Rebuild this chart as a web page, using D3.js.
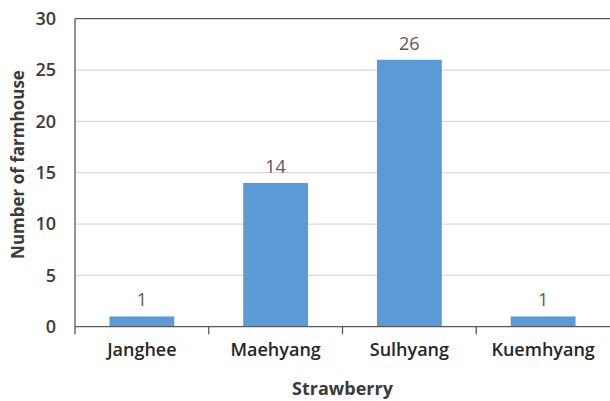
<!DOCTYPE html>
<html>
<head>
<meta charset="utf-8">
<script src="https://cdn.jsdelivr.net/npm/d3@7"></script>
<style>
  html, body { margin: 0; padding: 0; background: #fff; }
  svg { display: block; font-family: "Open Sans", "Noto Sans", sans-serif; }
</style>
</head>
<body>
<svg id="chart" width="610" height="401"></svg>
<script>
// Number of farmhouses per strawberry cultivar
const categories = ["Janghee", "Maehyang", "Sulhyang", "Kuemhyang"];
const farmhouses = [1, 14, 26, 1];
const yTicks = [0, 5, 10, 15, 20, 25, 30];
const xTitle = "Strawberry";
const yTitle = "Number of farmhouse";

const svg = d3.select("#chart");
const plot = { left: 75, right: 610, top: 18.7, bottom: 326.7 };

const x = d3.scaleBand()
  .domain(categories)
  .range([plot.left, plot.right])
  .paddingInner(0.515)
  .paddingOuter(0.2575);

const y = d3.scaleLinear()
  .domain([0, 30])
  .range([plot.bottom, plot.top]);

// horizontal gridlines
svg.append("g")
  .selectAll("line")
  .data(yTicks.filter(d => d > 0 && d < 30))
  .join("line")
  .attr("x1", plot.left).attr("x2", plot.right)
  .attr("y1", d => y(d)).attr("y2", d => y(d))
  .attr("stroke", "#d9d9d9").attr("stroke-width", 1.2);

// top border of plot area
svg.append("line")
  .attr("x1", plot.left).attr("x2", plot.right)
  .attr("y1", y(30)).attr("y2", y(30))
  .attr("stroke", "#595959").attr("stroke-width", 1.3);

// bars
svg.append("g")
  .selectAll("rect")
  .data(categories.map((c, i) => ({ c, v: farmhouses[i] })))
  .join("rect")
  .attr("x", d => x(d.c))
  .attr("width", x.bandwidth())
  .attr("y", d => y(d.v))
  .attr("height", d => y(0) - y(d.v))
  .attr("fill", "#5b9bd5");

// value labels
svg.append("g")
  .selectAll("text")
  .data(categories.map((c, i) => ({ c, v: farmhouses[i] })))
  .join("text")
  .attr("x", d => x(d.c) + x.bandwidth() / 2)
  .attr("y", d => y(d.v) - 10)
  .attr("text-anchor", "middle")
  .attr("fill", "#595959")
  .attr("font-size", 18)
  .text(d => d.v);

// y axis
const yAxis = svg.append("g")
  .attr("transform", `translate(${plot.left},0)`)
  .call(d3.axisLeft(y).tickValues(yTicks).tickSize(0).tickPadding(19));
yAxis.select(".domain")
  .attr("d", `M0,${y(30)}V${plot.bottom + 7.5}`)
  .attr("stroke", "#595959").attr("stroke-width", 1.3);
yAxis.selectAll("text")
  .attr("font-family", "\"Open Sans\", sans-serif")
  .attr("font-size", 18).attr("font-weight", 600)
  .attr("fill", "#3a3a3a");

// x axis with ticks at category boundaries
const xAxis = svg.append("g")
  .attr("transform", `translate(0,${plot.bottom})`)
  .call(d3.axisBottom(x).tickSize(0).tickPadding(17));
xAxis.select(".domain")
  .attr("d", `M${plot.left},0H${plot.right}`)
  .attr("stroke", "#595959").attr("stroke-width", 1.3);
xAxis.selectAll("text")
  .attr("font-family", "\"Open Sans\", sans-serif")
  .attr("font-size", 18).attr("font-weight", 600)
  .attr("fill", "#262626");
const step = x.step();
xAxis.append("g")
  .selectAll("line")
  .data(d3.range(1, categories.length))
  .join("line")
  .attr("x1", i => plot.left + i * step).attr("x2", i => plot.left + i * step)
  .attr("y1", 0).attr("y2", 7.5)
  .attr("stroke", "#595959").attr("stroke-width", 1.3);

// axis titles
svg.append("text")
  .attr("x", (plot.left + plot.right) / 2 + 0)
  .attr("y", 395)
  .attr("text-anchor", "middle")
  .attr("font-size", 18).attr("font-weight", 700)
  .attr("fill", "#3a3a3a")
  .text(xTitle);

svg.append("text")
  .attr("transform", `translate(24,164.5) rotate(-90)`)
  .attr("text-anchor", "middle")
  .attr("font-size", 17).attr("font-weight", 700)
  .attr("fill", "#3a3a3a")
  .text(yTitle);
</script>
</body>
</html>
